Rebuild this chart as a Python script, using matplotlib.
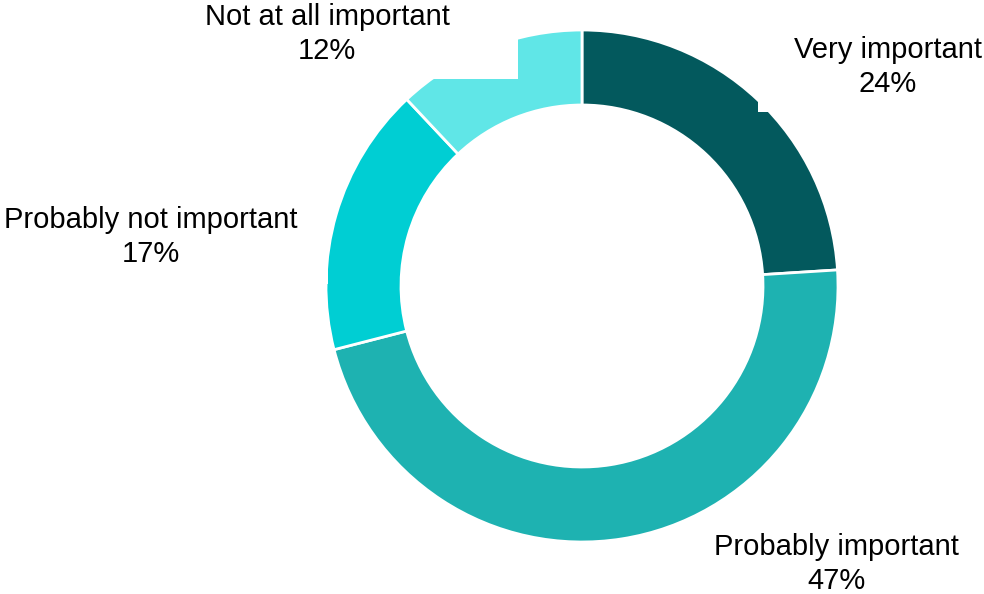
import matplotlib.pyplot as plt
from matplotlib.patches import Rectangle

# survey answers, clockwise from 12 o'clock
labels = ["Very important", "Probably important", "Probably not important", "Not at all important"]
shares = [24, 47, 17, 12]
colors = ["#03595D", "#1EB2B1", "#00CED3", "#60E6E7"]

plt.rcParams["font.family"] = ["Liberation Sans", "DejaVu Sans"]

W, H = 984, 594
fig = plt.figure(figsize=(W / 100, H / 100), dpi=100)
ax = fig.add_axes([0, 0, 1, 1])

# ring (pixel units, y measured from bottom)
cx, cy, r_out, r_in = 582, H - 286, 256, 181
wedges, _ = ax.pie(shares, colors=colors, startangle=90, counterclock=False,
                   radius=r_out, center=(cx, cy), frame=True,
                   wedgeprops=dict(width=r_out - r_in, edgecolor="white", linewidth=2))
ax.set_xlim(0, W)
ax.set_ylim(0, H)
ax.set_aspect("equal")
ax.axis("off")

# label positions (centre of the text block, top-origin pixels) and their white backing boxes
label_pos = [(888, 67), (836, 564), (151, 237), (327, 34)]
label_box = [(758, 0, 984, 112), None, (0, 190, 328, 284), (150, 0, 518, 79)]

for lab, pct, (x, y), box in zip(labels, shares, label_pos, label_box):
    if box is not None:
        x0, y0, x1, y1 = box
        ax.add_patch(Rectangle((x0, H - y1), x1 - x0, y1 - y0, facecolor="white",
                               edgecolor="none", zorder=5))
    ax.text(x, H - y, f"{lab}\n{pct}%", ha="center", va="center", fontsize=21,
            color="black", linespacing=1.3, zorder=6)

fig.savefig("out.png", dpi=100, facecolor="white")
